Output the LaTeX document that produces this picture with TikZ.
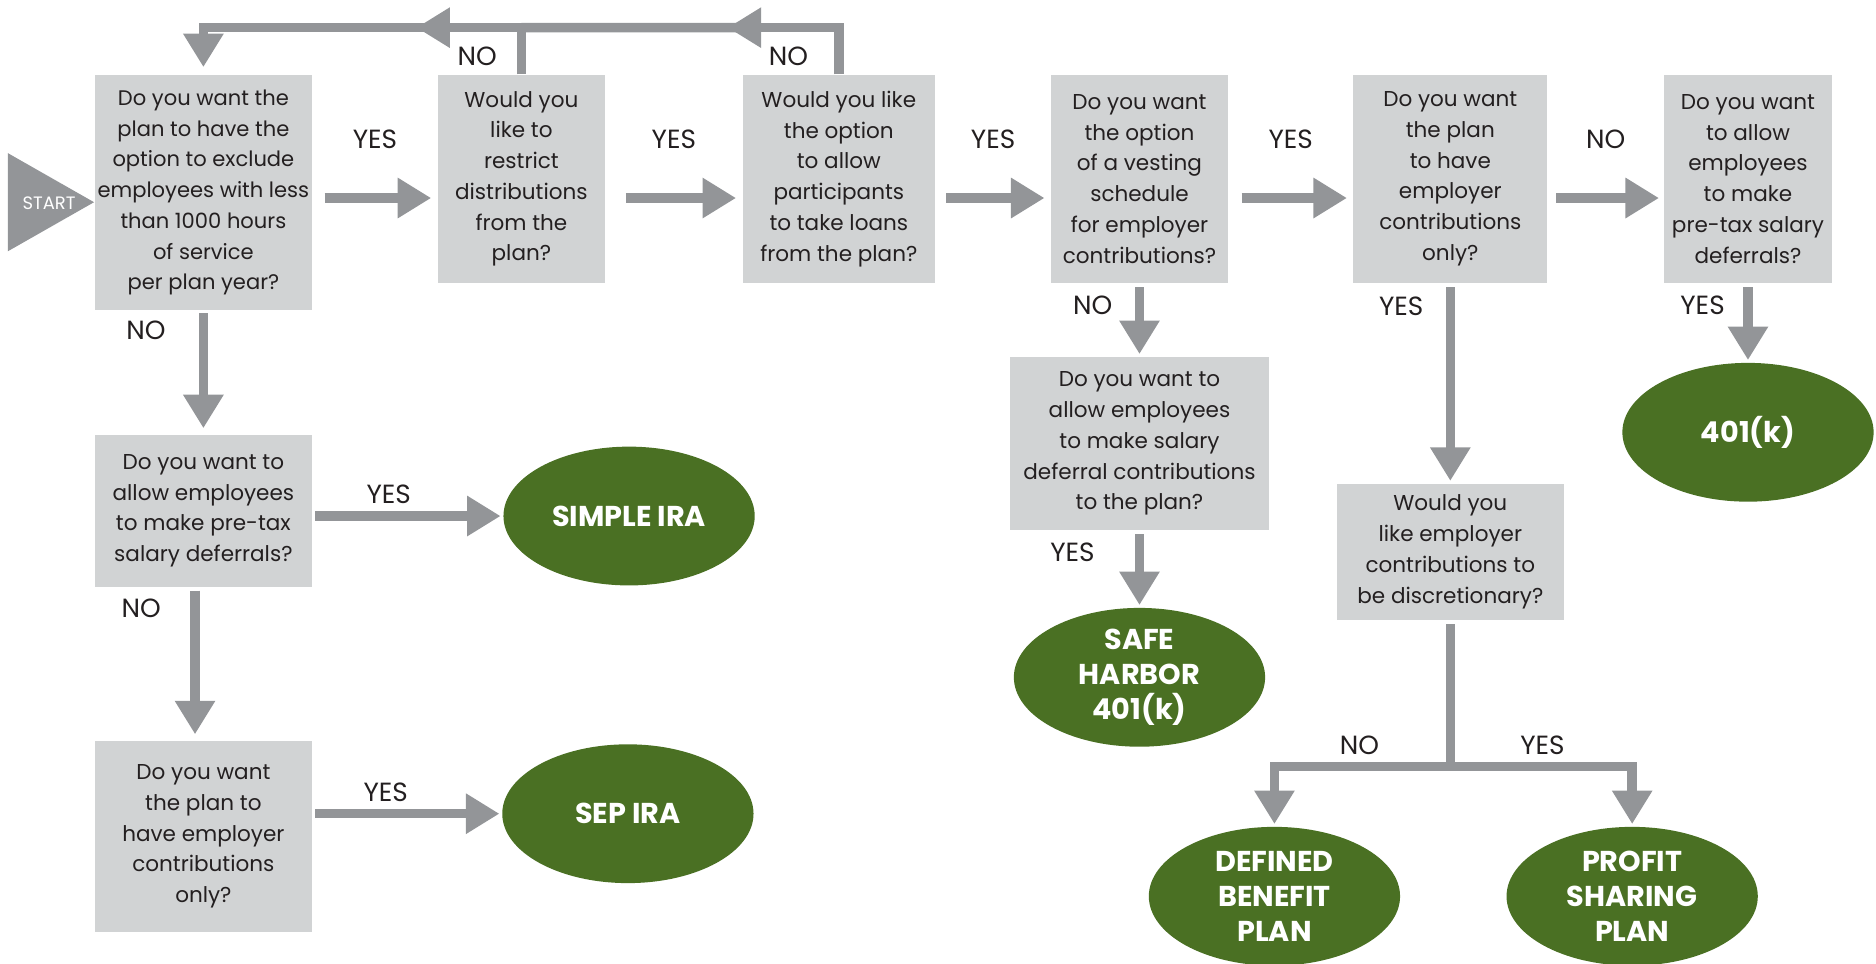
\documentclass[tikz,border=0pt]{standalone}
\usepackage{fontspec}
\setmainfont{Poppins}
\usetikzlibrary{arrows.meta,positioning,shapes.geometric,calc}
\definecolor{boxgray}{HTML}{D1D3D4}
\definecolor{arrowgray}{HTML}{939598}
\definecolor{plangreen}{HTML}{4A7023}
\definecolor{inkdark}{HTML}{231F20}

\begin{document}
\begin{tikzpicture}[
  font=\fontsize{9}{12.85}\selectfont,
  q/.style={fill=boxgray,align=center,inner sep=1pt,text=inkdark},
  plan/.style={ellipse,fill=plangreen,text=white,align=center,inner sep=0pt,minimum width=105pt,minimum height=58pt,font=\fontsize{12}{14.5}\selectfont\bfseries},
  a/.style={-{Triangle[length=14pt,width=16pt]},line width=4pt,arrowgray},
  l/.style={line width=4pt,arrowgray},
  lbl/.style={font=\fontsize{11}{13}\selectfont,text=inkdark}]
\useasboundingbox (0,0) rectangle (784pt,-402.5pt);
% questions, top row
\node[q,minimum width=91pt,minimum height=98.5pt,font=\fontsize{8.8}{12.85}\selectfont](q1) at (85pt,-80.5pt){Do you want the\\plan to have the\\option to exclude\\employees with less\\than 1000 hours\\of service\\per plan year?};
\node[q,minimum width=70pt,minimum height=87pt,right=52pt of q1.north east,anchor=north west](q2){Would you\\like to\\restrict\\distributions\\from the\\plan?};
\node[q,minimum width=80.5pt,minimum height=87pt,right=57pt of q2](q3){Would you like\\the option\\to allow\\participants\\to take loans\\from the plan?};
\node[q,minimum width=74pt,minimum height=87pt,right=48pt of q3](q4){Do you want\\the option\\of a vesting\\schedule\\for employer\\contributions?};
\node[q,minimum width=81pt,minimum height=87pt,right=52pt of q4](q5){Do you want\\the plan\\to have\\employer\\contributions\\only?};
\node[q,minimum width=70pt,minimum height=87pt,right=48.5pt of q5](q6){Do you want\\to allow\\employees\\to make\\pre-tax salary\\deferrals?};
% questions, lower rows
\node[q,minimum width=91pt,minimum height=63.5pt,below=51.5pt of q1](q7){Do you want to\\allow employees\\to make pre-tax\\salary deferrals?};
\node[q,minimum width=91pt,minimum height=80pt,below=64pt of q7](q8){Do you want\\the plan to\\have employer\\contributions\\only?};
\node[q,minimum width=108.5pt,minimum height=72.5pt,below=30.5pt of q4](q9){Do you want to\\allow employees\\to make salary\\deferral contributions\\to the plan?};
\node[q,minimum width=95pt,minimum height=57pt,below=83.5pt of q5](q10){Would you\\like employer\\contributions to\\be discretionary?};
% plans
\node[plan,right=79.5pt of q7,yshift=-2.25pt](simple){SIMPLE IRA};
\node[plan,right=79pt of q8,yshift=9.5pt](sep){SEP IRA};
\node[plan,below=32pt of q9](safe){SAFE\\HARBOR\\401(k)};
\node[plan,below=33pt of q6](k401){401(k)};
\node[plan,below=86pt of q10,xshift=-73.5pt](dbp){DEFINED\\BENEFIT\\PLAN};
\node[plan,below=86pt of q10,xshift=76pt](psp){PROFIT\\SHARING\\PLAN};
% start
\fill[arrowgray]([yshift=-4pt]q1.west)--++(-36pt,20.5pt)--++(0,-41pt)--cycle;
\node[font=\fontsize{7.5}{9}\selectfont,text=white](start) at ($(q1.west)+(-18.8pt,-4.5pt)$){START};
% yes chain
\coordinate(row) at ([yshift=-8pt]q2.west);
\draw[a,shorten <=5pt,shorten >=2.5pt](q1.east |- row)--node[lbl,yshift=24.5pt](y1){YES}(q2.west |- row);
\draw[a,shorten <=8.5pt,shorten >=2.5pt](q2.east |- row)--node[lbl,yshift=24.5pt](y2){YES}(q3.west |- row);
\draw[a,shorten <=4.5pt,shorten >=2.5pt](q3.east |- row)--node[lbl,yshift=24.5pt](y3){YES}(q4.west |- row);
\draw[a,shorten <=5.5pt,shorten >=2.5pt](q4.east |- row)--node[lbl,yshift=24.5pt](y4){YES}(q5.west |- row);
\draw[a,shorten <=3.5pt,shorten >=2pt](q5.east |- row)--node[lbl,yshift=24.5pt](n5){NO}(q6.west |- row);
% loops back to the start
\coordinate(top) at ([yshift=19.5pt]q1.north);
\draw[a](q3.north)|-($(q3.north |- top)!0.35!(q2.north |- top)$);
\draw[l]($(q3.north |- top)!0.3!(q2.north |- top)$)--(q2.north |- top);
\draw[a](q2.north)|-($(q2.north |- top)!0.33!(q1.north |- top)$);
\draw[a,shorten >=3pt]($(q2.north |- top)!0.3!(q1.north |- top)$)-|(q1.north);
\node[lbl](n2) at ([xshift=-18.5pt,yshift=7.5pt]q2.north){NO};
\node[lbl](n3) at ([xshift=-21pt,yshift=7.5pt]q3.north){NO};
% left column
\draw[a,shorten <=1pt,shorten >=2.5pt](q1.south)--(q7.north);
\node[lbl](n1) at ([xshift=-24pt,yshift=-8pt]q1.south){NO};
\draw[a,shorten <=1pt,shorten >=1pt](q7.east |- simple.west)--node[lbl,xshift=-8pt,yshift=9pt](y7){YES}(simple.west);
\draw[a,shorten <=1.5pt,shorten >=2.5pt]([xshift=-3.5pt]q7.south)--([xshift=-3.5pt]q8.north);
\node[lbl](n7) at ([xshift=-26pt,yshift=-9pt]q7.south){NO};
\draw[a,shorten <=1pt,shorten >=1pt](q8.east |- sep.west)--node[lbl,xshift=-9pt,yshift=9pt](y8){YES}(sep.west);
% right part
\draw[a,shorten <=1.5pt,shorten >=1pt](q4.south)--(q9.north);
\node[lbl](n4) at ([xshift=-19.5pt,yshift=-9pt]q4.south){NO};
\draw[a,shorten <=1.5pt,shorten >=1pt](q9.south)--(safe.north);
\node[lbl](y9) at ([xshift=-28pt,yshift=-9pt]q9.south){YES};
\draw[a,shorten <=1.5pt,shorten >=1pt](q5.south)--(q10.north);
\node[lbl](y5) at ([xshift=-20.5pt,yshift=-9.5pt]q5.south){YES};
\draw[a,shorten <=1.5pt,shorten >=1pt](q6.south)--(k401.north);
\node[lbl](y6) at ([xshift=-19pt,yshift=-9pt]q6.south){YES};
\coordinate(split) at ([yshift=-61pt]q10.south);
\draw[l,shorten <=1.5pt](q10.south)--(split);
\draw[a,shorten >=1pt](split)-|(dbp.north);
\draw[a,shorten >=1pt](split)-|(psp.north);
\node[lbl](n10) at ($(split)+(-38pt,9pt)$){NO};
\node[lbl](y10) at ($(split)+(38.5pt,9pt)$){YES};
\end{tikzpicture}
\end{document}
